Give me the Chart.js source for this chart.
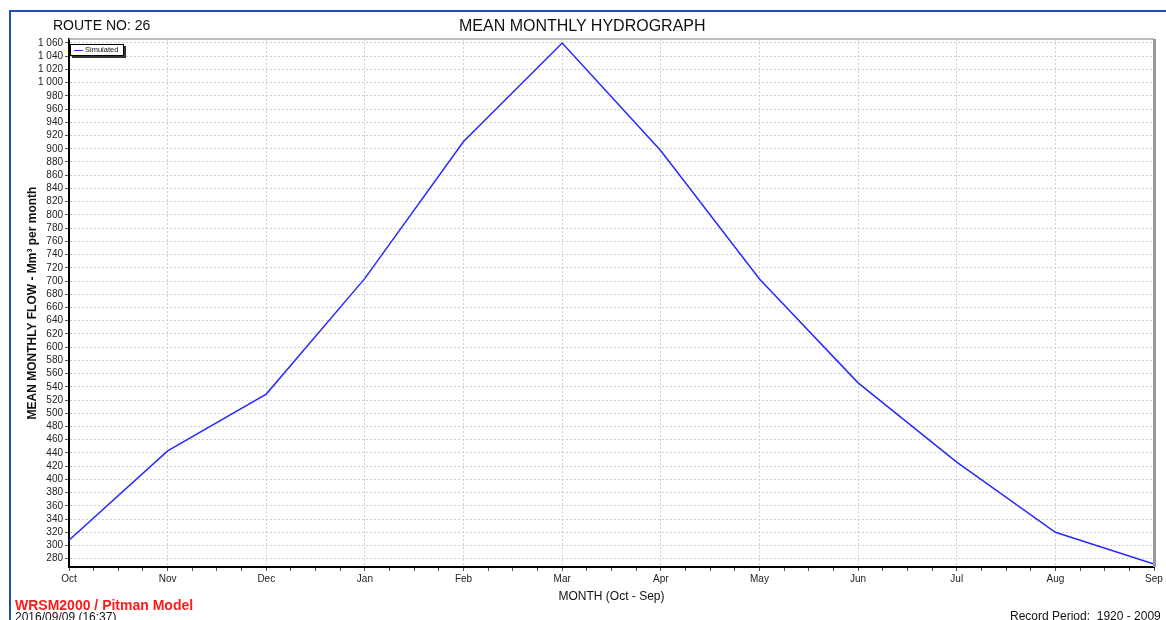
<!DOCTYPE html>
<html>
<head>
<meta charset="utf-8">
<script src="https://cdn.jsdelivr.net/npm/chart.js@4.4.0/dist/chart.umd.min.js"></script>
<style>
  html, body { margin: 0; padding: 0; background: #fff; }
  #wrap { position: relative; width: 1166px; height: 620px; overflow: hidden; font-family: 'Liberation Sans', Arial, sans-serif; }
  #chart { position: absolute; left: 0; top: 0; }
  .txt { position: absolute; white-space: pre; line-height: 1; color: #111; }
  #frameTop { position: absolute; left: 9px; top: 10px; width: 1157px; height: 2px; background: #1f4fb5; }
  #frameLeft { position: absolute; left: 9px; top: 10px; width: 2px; height: 610px; background: #1f4fb5; }
  #legend { position: absolute; left: 70px; top: 44px; width: 52px; height: 10px; border: 1px solid #000;
            box-shadow: 2px 2px 0 #333; background: #fff; font-size: 7.5px; line-height: 10px; }
  #legend .swatch { position: absolute; left: 3px; top: 5px; width: 9px; height: 1px; background: #2828ff; }
  #legend .lbl { position: absolute; left: 14px; top: 0; color: #111; }
</style>
</head>
<body>
<div id="wrap">
  <canvas id="chart" width="1166" height="620"></canvas>
  <div id="frameTop"></div>
  <div id="frameLeft"></div>
  <div class="txt" style="left:53px; top:18px; font-size:14px;">ROUTE NO: 26</div>
  <div class="txt" style="left:459px; top:18px; font-size:16px;">MEAN MONTHLY HYDROGRAPH</div>
  <div id="legend"><div class="swatch"></div><div class="lbl">Simulated</div></div>
  <div class="txt" style="left:15px; top:598px; font-size:14px; font-weight:bold; color:#ff1a1a;">WRSM2000 / Pitman Model</div>
  <div class="txt" style="left:15px; top:611px; font-size:12px;">2016/09/09 (16:37)</div>
  <div class="txt" style="left:1010px; top:610px; font-size:12px;">Record Period:  1920 - 2009</div>
</div>

<script>
// --- data ---
const months = ['Oct', 'Nov', 'Dec', 'Jan', 'Feb', 'Mar', 'Apr', 'May', 'Jun', 'Jul', 'Aug', 'Sep'];
const simulated = [308, 443, 529, 704, 911, 1060, 897, 703, 546, 426, 320, 272];
const yMin = 267.5;
const yMax = 1066;
const yStep = 20;

const font = "'Liberation Sans', Arial, sans-serif";
const gridColor = '#cfcfcf';

// gray top / right frame of the plot area
const plotFrame = {
    id: 'plotFrame',
    afterDraw(chart) {
        const { ctx, chartArea: a } = chart;
        ctx.save();
        ctx.strokeStyle = '#a8a8a8';
        ctx.lineWidth = 1.5;
        ctx.beginPath();
        ctx.moveTo(a.left, a.top);
        ctx.lineTo(a.right, a.top);
        ctx.stroke();
        ctx.strokeStyle = '#999';
        ctx.lineWidth = 3;
        ctx.beginPath();
        ctx.moveTo(a.right + 0.5, a.top);
        ctx.lineTo(a.right + 0.5, a.bottom);
        ctx.stroke();
        ctx.restore();
    }
};

function spaced(v) {
    return String(v).replace(/\B(?=(\d{3})+(?!\d))/g, ' ');
}

new Chart(document.getElementById('chart'), {
    type: 'line',
    data: {
        datasets: [{
            label: 'Simulated',
            data: simulated.map((v, i) => ({ x: i, y: v })),
            borderColor: '#2828ff',
            borderWidth: 1.5,
            pointRadius: 0,
            tension: 0,
            fill: false
        }]
    },
    options: {
        responsive: false,
        animation: false,
        events: [],
        layout: { padding: { left: 0, top: 39, right: 12, bottom: 0 } },
        plugins: {
            legend: { display: false },
            tooltip: { enabled: false },
            title: { display: false }
        },
        scales: {
            x: {
                type: 'linear',
                min: 0,
                max: months.length - 1,
                afterFit: s => { s.height = 53; },
                ticks: {
                    stepSize: 0.25,
                    autoSkip: false,
                    maxRotation: 0,
                    padding: 2,
                    color: '#222',
                    font: { family: font, size: 10 },
                    callback: v => Number.isInteger(v) ? months[v] : ''
                },
                grid: {
                    color: c => (c.tick && Number.isInteger(c.tick.value)) ? gridColor : 'rgba(0,0,0,0)',
                    tickColor: '#555',
                    tickLength: 4,
                    lineWidth: 1
                },
                border: { color: '#000', width: 2, dash: [2, 2] },
                title: {
                    display: true,
                    text: 'MONTH (Oct - Sep)',
                    color: '#111',
                    font: { family: font, size: 12 },
                    padding: { top: 0, bottom: 16 }
                }
            },
            y: {
                min: yMin,
                max: yMax,
                afterFit: s => { s.width = 69; },
                ticks: {
                    stepSize: yStep,
                    includeBounds: false,
                    autoSkip: false,
                    padding: 2,
                    color: '#222',
                    font: { family: font, size: 10 },
                    callback: v => spaced(v)
                },
                grid: {
                    color: gridColor,
                    tickColor: '#555',
                    tickLength: 4,
                    lineWidth: 1
                },
                border: { color: '#000', width: 2, dash: [2, 2] },
                title: {
                    display: true,
                    text: 'MEAN MONTHLY FLOW - Mm³ per month',
                    color: '#111',
                    font: { family: font, size: 12, weight: 'bold' },
                    padding: { top: 25, bottom: 0 }
                }
            }
        }
    },
    plugins: [plotFrame]
});
</script>
</body>
</html>
